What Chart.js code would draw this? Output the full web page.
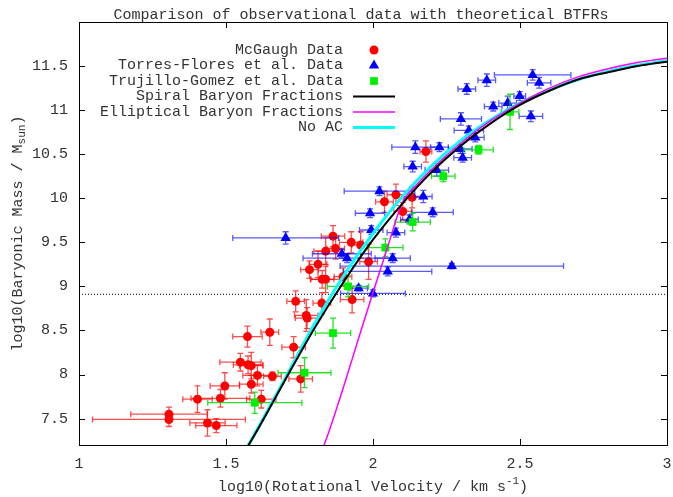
<!DOCTYPE html>
<html>
<head>
<meta charset="utf-8">
<title>BTFR comparison</title>
<script src="https://cdn.jsdelivr.net/npm/chart.js@4.4.1/dist/chart.umd.min.js"></script>
<style>
  html, body { margin: 0; padding: 0; background: #fff; }
  #wrap { width: 673px; height: 497px; }
</style>
</head>
<body>
<div id="wrap"><canvas id="btfr" width="673" height="497"></canvas></div>
<script>
// ---- data (log10 V in km/s, log10 M in solar masses) ----
const mcgaughV = [1.306, 1.306, 1.437, 1.467, 1.403, 1.481, 1.496, 1.586, 1.620, 1.607, 1.658, 1.549, 1.575, 1.586, 1.573, 1.649, 1.730, 1.754, 1.737, 1.773, 1.776, 1.826, 1.929, 1.784, 1.813, 1.827, 1.839, 1.839, 1.864, 1.873, 1.926, 1.958, 1.898, 1.985, 2.039, 2.078, 2.101, 2.133, 2.180];
const mcgaughM = [7.55, 7.49, 7.45, 7.42, 7.72, 7.73, 7.87, 7.89, 7.72, 7.99, 7.98, 8.14, 8.11, 8.10, 8.43, 8.48, 8.31, 7.95, 8.83, 8.67, 8.64, 8.81, 8.85, 9.19, 9.25, 9.08, 9.08, 9.40, 9.57, 9.43, 9.50, 9.47, 9.11, 9.28, 9.96, 10.04, 9.85, 10.01, 10.53];
const mcgaughVErr = [0.13, 0.26, 0.06, 0.07, 0.05, 0.10, 0.05, 0.04, 0.05, 0.05, 0.03, 0.07, 0.05, 0.04, 0.05, 0.03, 0.04, 0.04, 0.03, 0.04, 0.04, 0.03, 0.04, 0.03, 0.03, 0.04, 0.05, 0.04, 0.04, 0.03, 0.04, 0.03, 0.03, 0.03, 0.03, 0.03, 0.03, 0.03, 0.02];
const mcgaughMErr = [0.08, 0.08, 0.15, 0.08, 0.15, 0.10, 0.15, 0.10, 0.10, 0.12, 0.05, 0.10, 0.10, 0.15, 0.12, 0.15, 0.12, 0.15, 0.12, 0.18, 0.12, 0.12, 0.15, 0.10, 0.15, 0.10, 0.15, 0.15, 0.12, 0.12, 0.12, 0.15, 0.10, 0.20, 0.12, 0.12, 0.10, 0.12, 0.12];

const torresV = [1.703, 1.894, 1.912, 1.951, 2.000, 1.994, 2.022, 1.990, 2.171, 2.203, 2.124, 2.078, 2.067, 2.050, 2.268, 2.144, 2.135, 2.226, 2.217, 2.299, 2.319, 2.387, 2.543, 2.565, 2.409, 2.458, 2.499, 2.537, 2.326, 2.348, 2.297, 2.305];
const torresM = [9.55, 9.37, 9.32, 8.98, 8.92, 9.64, 10.08, 9.83, 10.02, 9.84, 9.76, 9.61, 9.32, 9.17, 9.23, 10.58, 10.36, 10.58, 10.32, 10.90, 11.24, 11.34, 11.40, 11.31, 11.04, 11.08, 11.16, 10.93, 10.77, 10.69, 10.56, 10.46];
const torresVErr = [0.18, 0.10, 0.15, 0.03, 0.11, 0.04, 0.12, 0.05, 0.03, 0.07, 0.03, 0.03, 0.06, 0.15, 0.38, 0.08, 0.03, 0.03, 0.04, 0.07, 0.03, 0.03, 0.13, 0.04, 0.03, 0.03, 0.02, 0.04, 0.05, 0.03, 0.04, 0.03];
const torresMErr = [0.07, 0.05, 0.05, 0.03, 0.04, 0.05, 0.05, 0.05, 0.07, 0.05, 0.05, 0.05, 0.05, 0.05, 0.03, 0.07, 0.06, 0.05, 0.07, 0.07, 0.06, 0.07, 0.06, 0.06, 0.05, 0.08, 0.05, 0.06, 0.05, 0.05, 0.05, 0.05];

const trujilloV = [1.598, 1.767, 1.864, 1.915, 2.042, 2.135, 2.239, 2.359, 2.466];
const trujilloM = [7.68, 8.02, 8.47, 9.00, 9.44, 9.73, 10.25, 10.55, 10.98];
const trujilloVErr = [0.16, 0.09, 0.06, 0.07, 0.06, 0.06, 0.04, 0.05, 0.03];
const trujilloMErr = [0.12, 0.17, 0.17, 0.12, 0.10, 0.10, 0.06, 0.05, 0.20];

// theory curves
const curveV = [1.55, 1.6, 1.7, 1.8, 1.9, 2.0, 2.1, 2.2, 2.3, 2.4, 2.5, 2.6, 2.7, 2.8, 2.9, 3.0];
const spiralM = [7.05, 7.33, 7.93, 8.52, 9.05, 9.53, 9.94, 10.30, 10.60, 10.85, 11.06, 11.22, 11.35, 11.43, 11.50, 11.55];
const noAcM = [7.05, 7.34, 7.95, 8.57, 9.12, 9.60, 10.02, 10.37, 10.66, 10.89, 11.08, 11.23, 11.35, 11.44, 11.51, 11.56];
const ellipticalV = [1.82, 1.85, 1.9, 1.95, 2.0, 2.05, 2.1, 2.15, 2.2, 2.3, 2.4, 2.5, 2.6, 2.7, 2.8, 2.9, 3.0];
const ellipticalM = [7.08, 7.35, 7.86, 8.40, 8.93, 9.45, 9.95, 10.16, 10.33, 10.63, 10.88, 11.08, 11.25, 11.38, 11.47, 11.54, 11.59];

const cutV = [1, 3];
const cutM = [8.91, 8.91];

const xTicks = [1, 1.5, 2, 2.5, 3];
const yTicks = [7.5, 8, 8.5, 9, 9.5, 10, 10.5, 11, 11.5];

const FONT = "'Liberation Mono', 'DejaVu Sans Mono', monospace";
const TEXT = '#333';

const pts = (xs, ys) => xs.map((x, i) => ({ x: x, y: ys[i] }));

// error bars + frame + legend + titles, gnuplot style
const gnuStyle = {
  id: 'gnuStyle',
  beforeDatasetDraw(chart, args) {
    const ds = chart.data.datasets[args.index];
    if (!ds.errX) return;
    const ctx = chart.ctx, xs = chart.scales.x, ys = chart.scales.y, a = chart.chartArea;
    const cap = 3;
    ctx.save();
    ctx.beginPath();
    ctx.rect(a.left, a.top, a.right - a.left, a.bottom - a.top);
    ctx.clip();
    ctx.strokeStyle = ds.errColor;
    ctx.lineWidth = 1.3;
    ds.data.forEach((p, i) => {
      const px = xs.getPixelForValue(p.x), py = ys.getPixelForValue(p.y);
      const x0 = xs.getPixelForValue(p.x - ds.errX[i]), x1 = xs.getPixelForValue(p.x + ds.errX[i]);
      const y0 = ys.getPixelForValue(p.y - ds.errY[i]), y1 = ys.getPixelForValue(p.y + ds.errY[i]);
      ctx.beginPath();
      ctx.moveTo(x0, py); ctx.lineTo(x1, py);
      ctx.moveTo(x0, py - cap); ctx.lineTo(x0, py + cap);
      ctx.moveTo(x1, py - cap); ctx.lineTo(x1, py + cap);
      ctx.moveTo(px, y0); ctx.lineTo(px, y1);
      ctx.moveTo(px - cap, y0); ctx.lineTo(px + cap, y0);
      ctx.moveTo(px - cap, y1); ctx.lineTo(px + cap, y1);
      ctx.stroke();
    });
    ctx.restore();
  },
  afterDraw(chart) {
    const ctx = chart.ctx, a = chart.chartArea, xs = chart.scales.x, ys = chart.scales.y;
    ctx.save();
    // border
    ctx.strokeStyle = '#000';
    ctx.lineWidth = 1;
    ctx.strokeRect(Math.round(a.left) + 0.5, Math.round(a.top) + 0.5, Math.round(a.right - a.left), Math.round(a.bottom - a.top));
    // inward ticks, mirrored
    const tl = 6;
    ctx.beginPath();
    xTicks.forEach(v => {
      const x = Math.round(xs.getPixelForValue(v)) + 0.5;
      ctx.moveTo(x, a.bottom); ctx.lineTo(x, a.bottom - tl);
      ctx.moveTo(x, a.top); ctx.lineTo(x, a.top + tl);
    });
    yTicks.forEach(v => {
      const y = Math.round(ys.getPixelForValue(v)) + 0.5;
      ctx.moveTo(a.left, y); ctx.lineTo(a.left + tl, y);
      ctx.moveTo(a.right, y); ctx.lineTo(a.right - tl, y);
    });
    ctx.stroke();

    // title and axis titles
    ctx.fillStyle = TEXT;
    ctx.textBaseline = 'middle';
    const rich = (parts, x, y, rot) => {
      ctx.save();
      ctx.translate(x, y);
      if (rot) ctx.rotate(-Math.PI / 2);
      let w = 0;
      parts.forEach(p => { ctx.font = (p.small ? '11px ' : '15px ') + FONT; w += ctx.measureText(p.t).width; });
      let cx = -w / 2;
      ctx.textAlign = 'left';
      parts.forEach(p => {
        ctx.font = (p.small ? '11px ' : '15px ') + FONT;
        ctx.fillText(p.t, cx, p.dy || 0);
        cx += ctx.measureText(p.t).width;
      });
      ctx.restore();
    };
    rich([{ t: 'Comparison of observational data with theoretical BTFRs' }], 361, 15, false);
    rich([{ t: 'log10(Rotational Velocity / km s' }, { t: '-1', small: true, dy: -6 }, { t: ')' }], (a.left + a.right) / 2, 487, false);
    rich([{ t: 'log10(Baryonic Mass / M' }, { t: 'sun', small: true, dy: 4 }, { t: ')' }], 18, (a.top + a.bottom) / 2, true);

    // legend: right aligned text, sample on the right
    const rowY = [50, 65.5, 81, 96.5, 112, 127.5];
    const textRight = 343, sampleX = 374;
    const items = chart.data.datasets.filter(d => d.label);
    items.forEach((d, i) => {
      const y = rowY[i];
      ctx.font = '15px ' + FONT;
      ctx.textAlign = 'right';
      ctx.fillStyle = TEXT;
      ctx.fillText(d.label, textRight, y);
      if (d.showLine === false) {
        ctx.fillStyle = d.pointBackgroundColor;
        ctx.strokeStyle = d.pointBackgroundColor;
        Chart.helpers.drawPoint(ctx, { pointStyle: d.pointStyle, radius: d.pointRadius, rotation: 0, borderWidth: 0 }, sampleX, y);
      } else {
        ctx.strokeStyle = d.borderColor;
        ctx.lineWidth = d.borderWidth;
        ctx.beginPath();
        ctx.moveTo(sampleX - 21, y); ctx.lineTo(sampleX + 21, y);
        ctx.stroke();
      }
    });
    ctx.restore();
  }
};

const scatterSet = (label, xs, ys, ex, ey, color, errColor, style, r, order) => ({
  type: 'scatter',
  label: label,
  data: pts(xs, ys),
  errX: ex,
  errY: ey,
  errColor: errColor,
  showLine: false,
  pointStyle: style,
  pointRadius: r,
  pointBackgroundColor: color,
  pointBorderColor: color,
  pointBorderWidth: 0,
  order: order
});

const lineSet = (label, xs, ys, color, width, order) => ({
  type: 'line',
  label: label,
  data: pts(xs, ys),
  borderColor: color,
  borderWidth: width,
  pointRadius: 0,
  fill: false,
  cubicInterpolationMode: 'monotone',
  order: order
});

new Chart(document.getElementById('btfr'), {
  data: {
    datasets: [
      scatterSet('McGaugh Data', mcgaughV, mcgaughM, mcgaughVErr, mcgaughMErr, '#ff0000', 'rgba(255,0,0,0.7)', 'circle', 4.5, 5),
      scatterSet('Torres-Flores et al. Data', torresV, torresM, torresVErr, torresMErr, '#0000ff', 'rgba(0,0,255,0.65)', 'triangle', 6, 4),
      scatterSet('Trujillo-Gomez et al. Data', trujilloV, trujilloM, trujilloVErr, trujilloMErr, '#00ee00', 'rgba(0,220,0,0.85)', 'rect', 5.5, 3),
      lineSet('Spiral Baryon Fractions', curveV, spiralM, '#000000', 2, 0),
      lineSet('Elliptical Baryon Fractions', ellipticalV, ellipticalM, '#ff00ff', 1.5, 1),
      lineSet('No AC', curveV, noAcM, '#00ffff', 3, 2),
      Object.assign(lineSet('', cutV, cutM, '#000000', 1, 6), { borderDash: [1, 2], cubicInterpolationMode: 'default', tension: 0 })
    ]
  },
  options: {
    responsive: false,
    animation: false,
    layout: { padding: { top: 22, right: 5, left: 0, bottom: 0 } },
    plugins: {
      legend: { display: false },
      tooltip: { enabled: false },
      title: { display: false }
    },
    scales: {
      x: {
        type: 'linear',
        min: 1,
        max: 3,
        afterBuildTicks: s => { s.ticks = xTicks.map(v => ({ value: v })); },
        afterFit: s => { s.height = 52; s.paddingLeft = 0; s.paddingRight = 0; },
        grid: { display: false, drawTicks: false },
        border: { display: false },
        ticks: {
          padding: 10,
          maxRotation: 0,
          autoSkip: false,
          color: TEXT,
          font: { family: FONT, size: 15 },
          callback: v => String(v)
        }
      },
      y: {
        type: 'linear',
        min: 7.2,
        max: 12,
        afterBuildTicks: s => { s.ticks = yTicks.map(v => ({ value: v })); },
        afterFit: s => { s.width = 79; s.paddingTop = 0; s.paddingBottom = 0; },
        grid: { display: false, drawTicks: false },
        border: { display: false },
        ticks: {
          padding: 11,
          autoSkip: false,
          color: TEXT,
          font: { family: FONT, size: 15 },
          callback: v => String(v)
        }
      }
    }
  },
  plugins: [gnuStyle]
});
</script>
</body>
</html>
